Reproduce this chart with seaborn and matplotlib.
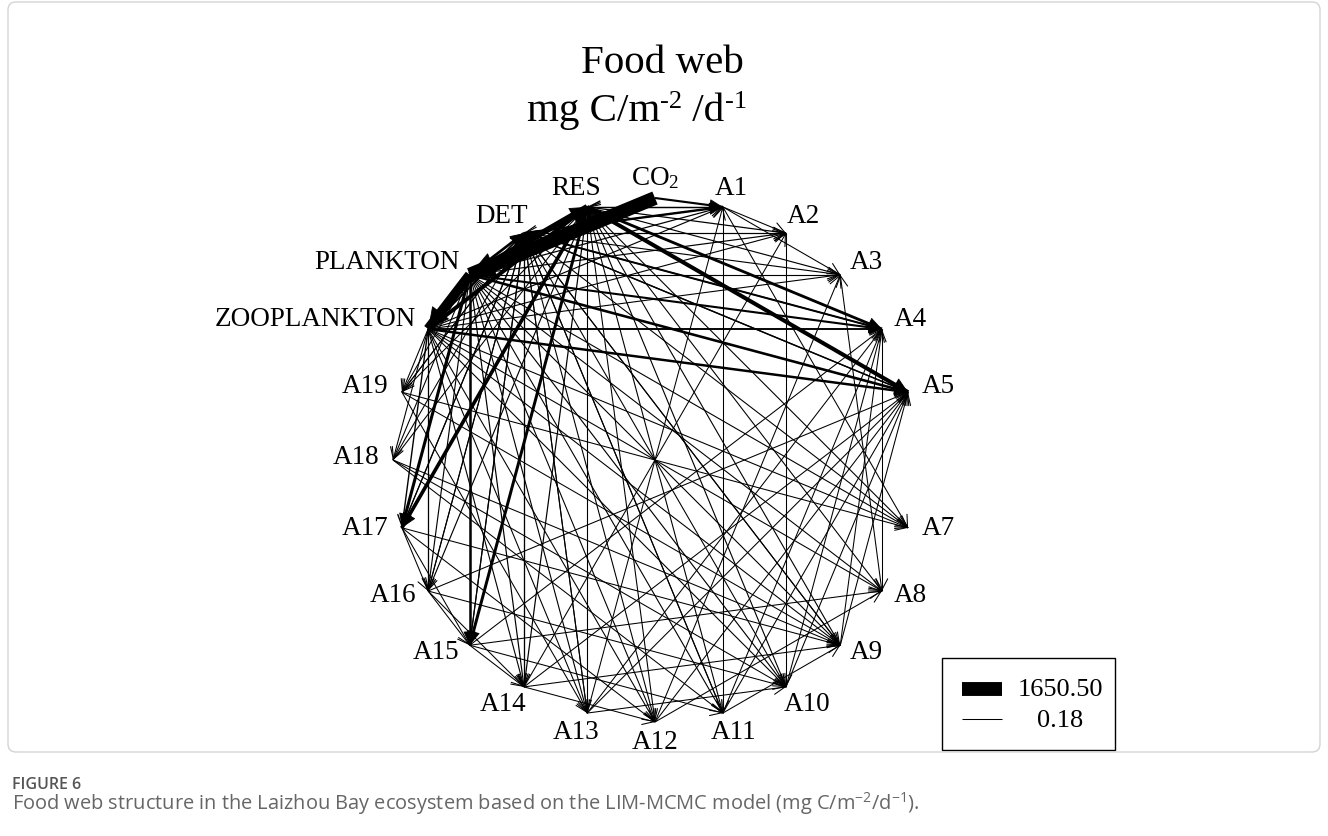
import numpy as np
import pandas as pd
import matplotlib
matplotlib.use("Agg")
import matplotlib.pyplot as plt
from matplotlib.patches import FancyArrowPatch, FancyBboxPatch, Rectangle
import seaborn as sns

# ---------------------------------------------------------------- data
# compartments placed clockwise round the ring, starting at the top ("" = empty slot)
COMPARTMENTS = ["CO2", "A1", "A2", "A3", "A4", "A5", "", "A7", "A8", "A9", "A10",
                "A11", "A12", "A13", "A14", "A15", "A16", "A17", "A18", "A19",
                "ZOOPLANKTON", "PLANKTON", "DET", "RES"]
LABELS = {"CO2": r"CO$_{\mathrm{2}}$"}

# carbon flows (mg C m-2 d-1): source, sink, value
FLOW_FROM = (
    # primary production and plankton
    ["CO2", "PLANKTON", "PLANKTON", "PLANKTON", "ZOOPLANKTON", "ZOOPLANKTON",
     "RES", "RES", "RES", "RES", "PLANKTON", "PLANKTON", "ZOOPLANKTON",
     "PLANKTON", "PLANKTON", "ZOOPLANKTON", "DET", "DET", "CO2"]
    # grazing on phytoplankton
    + ["PLANKTON"] * 14
    # grazing on zooplankton
    + ["ZOOPLANKTON"] * 14
    # detritivory
    + ["DET"] * 14
    # respiration
    + ["A1", "A2", "A3", "A7", "A8", "A9", "A10", "A11", "A12", "A13", "A14",
       "A16", "A18", "A19"]
    # egestion to detritus
    + ["A1", "A2", "A4", "A5", "A9", "A11", "A13", "A15", "A16", "A17", "A18", "A19"]
    # predation among functional groups
    + ["A1", "A1", "A1", "A8", "A2", "A1", "A4",
       "A9", "A10", "A11", "A12", "A13", "A16", "A14",
       "A15", "A10", "A11", "A9", "A13",
       "A12", "A11", "A18", "A19", "A17", "A17",
       "A16", "A16", "A15", "A19", "A18", "A19",
       "A17", "A16", "A15", "A14", "A13", "A14", "A15",
       "A13", "A14", "A18", "A17", "A12"]
)
FLOW_TO = (
    ["PLANKTON", "ZOOPLANKTON", "RES", "DET", "RES", "DET",
     "A5", "A17", "A15", "A4", "A17", "A5", "A5",
     "A15", "A4", "A4", "A1", "A4", "A1"]
    + ["A1", "A2", "A3", "A7", "A8", "A9", "A10", "A11", "A12", "A13", "A14",
       "A16", "A18", "A19"]
    + ["A1", "A2", "A3", "A7", "A8", "A9", "A10", "A12", "A13", "A14", "A16",
       "A17", "A18", "A19"]
    + ["A2", "A3", "A5", "A7", "A9", "A10", "A11", "A12", "A13", "A14", "A15",
       "A16", "A17", "A19"]
    + ["RES"] * 14
    + ["DET"] * 12
    + ["A2", "A3", "A7", "A3", "A10", "A11", "A8",
       "A5", "A5", "A5", "A5", "A5", "A5", "A5",
       "A4", "A4", "A4", "A4", "A4",
       "A8", "A9", "A10", "A13", "A15", "A16",
       "A15", "A14", "A14", "A9", "A9", "A7",
       "A12", "A10", "A11", "A12", "A10", "A9", "A8",
       "A1", "A2", "A11", "A9", "A3"]
)
FLOW_VALUE = (
    [1650.50, 1120.0, 640.0, 210.0, 380.0, 95.0,
     390.0, 330.0, 250.0, 230.0, 260.0, 200.0, 185.0,
     190.0, 135.0, 110.0, 170.0, 120.0, 140.0]
    + [25, 18, 12, 8, 6, 10, 15, 9, 7, 11, 20, 14, 5, 4]
    + [14, 9, 7, 5, 4, 6, 8, 5, 6, 10, 30, 45, 6, 5]
    + [12, 10, 40, 6, 8, 5, 9, 7, 5, 35, 20, 9, 15, 3]
    + [55, 24, 15, 8, 6, 10, 12, 8, 6, 9, 22, 15, 4, 3]
    + [10, 4, 20, 30, 3, 3, 2, 8, 5, 12, 3, 0.18]
    + [4, 3, 2, 2, 3, 3, 2,
       2.5, 3, 2, 1.5, 2, 1.8, 1.2,
       2, 1.5, 1.2, 1, 0.9,
       1.1, 0.8, 1.4, 0.9, 2.2, 1.6,
       1.3, 1.1, 0.9, 0.7, 0.6, 0.9,
       0.8, 0.7, 0.6, 0.5, 0.6, 0.8, 0.5,
       0.7, 0.9, 0.4, 0.5, 0.6]
)

# ---------------------------------------------------------------- style
sns.set_theme(style="white")
plt.rcParams["font.family"] = ["Liberation Serif", "DejaVu Serif"]
plt.rcParams["text.color"] = "black"
plt.rcParams["mathtext.fontset"] = "custom"
plt.rcParams["mathtext.rm"] = "Liberation Serif"
plt.rcParams["mathtext.it"] = "Liberation Serif:italic"
plt.rcParams["mathtext.sf"] = "Open Sans"

W, H = 1328, 836
fig = plt.figure(figsize=(W / 100, H / 100), dpi=100)
ax = fig.add_axes([0, 0, 1, 1])

# ring geometry (pixel units)
CX, CY, RAD = 655.0, 460.0, 262.0
n = len(COMPARTMENTS)
theta = np.deg2rad(np.arange(n) * 360.0 / n)
pos = {name: (CX + RAD * np.sin(t), CY - RAD * np.cos(t))
       for name, t in zip(COMPARTMENTS, theta) if name}

# ---------------------------------------------------------------- flows
rows = []
for k, (a, b, v) in enumerate(zip(FLOW_FROM, FLOW_TO, FLOW_VALUE)):
    (x0, y0), (x1, y1) = pos[a], pos[b]
    rows.append(dict(edge=k, x=x0, y=y0, flow=v))
    rows.append(dict(edge=k, x=x1, y=y1, flow=v))
df = pd.DataFrame(rows)

LW_MIN, LW_MAX = 0.75, 10.0
sns.lineplot(data=df, x="x", y="y", units="edge", estimator=None, sort=False,
             size="flow", sizes=(LW_MIN, LW_MAX), color="black", legend=False, ax=ax)
for ln in ax.lines:
    ln.set_solid_capstyle("butt")

vmin, vmax = min(FLOW_VALUE), max(FLOW_VALUE)


def width_of(v):
    return LW_MIN + (LW_MAX - LW_MIN) * (v - vmin) / (vmax - vmin)


for a, b, v in zip(FLOW_FROM, FLOW_TO, FLOW_VALUE):
    (x0, y0), (x1, y1) = pos[a], pos[b]
    d = np.hypot(x1 - x0, y1 - y0)
    ux, uy = (x1 - x0) / d, (y1 - y0) / d
    lw = width_of(v)
    if v >= 100:
        style = f"-|>,head_length={7 + 1.0 * lw:.1f},head_width={3 + 0.6 * lw:.1f}"
        arr = FancyArrowPatch((x1 - ux * 4, y1 - uy * 4), (x1, y1), arrowstyle=style,
                              mutation_scale=1, lw=0.6, color="black",
                              shrinkA=0, shrinkB=0, zorder=3)
    else:
        arr = FancyArrowPatch((x1 - ux * 3, y1 - uy * 3), (x1, y1),
                              arrowstyle="->,head_length=8,head_width=4.2",
                              mutation_scale=1, lw=lw, color="black",
                              shrinkA=0, shrinkB=0, zorder=3)
    ax.add_patch(arr)

ax.set_xlim(0, W)
ax.set_ylim(H, 0)
ax.axis("off")

# ---------------------------------------------------------------- compartment names
LAB_R = 280.0   # ring radius for names near the top and bottom
SIDE_R = 276.0  # ring radius for names aligned against the sides
texts = []
for name, t in zip(COMPARTMENTS, theta):
    if not name:
        continue
    s, c = np.sin(t), np.cos(t)
    if abs(s) > 0.6:
        ha = "left" if s > 0 else "right"
        x, y = CX + SIDE_R * s, CY - SIDE_R * c
        ax.text(x, y + 4, LABELS.get(name, name), fontsize=19.5,
                ha=ha, va="baseline", zorder=5)
    else:
        x, y = CX + LAB_R * s, CY - LAB_R * c
        txt = ax.text(x, y + 7 - 2 * c, LABELS.get(name, name), fontsize=19.5,
                      ha="center", va="baseline", zorder=5)
        texts.append((txt, s, x))

fig.canvas.draw()
renderer = fig.canvas.get_renderer()
for txt, s, x in texts:
    w = txt.get_window_extent(renderer).width
    txt.set_x(x + 0.5 * w * s)


# ---------------------------------------------------------------- title
def run_of_text(pieces, cx, base, family="Liberation Serif", color="black"):
    """Write (string, size, raise_px) pieces on one baseline, centred on cx."""
    objs = []
    for s, size, rise in pieces:
        objs.append(ax.text(0, base - rise, s, fontsize=size, family=family,
                            color=color, ha="left", va="baseline"))
    fig.canvas.draw()
    widths = [o.get_window_extent(renderer).width for o in objs]
    x = cx - sum(widths) / 2
    for o, wdt in zip(objs, widths):
        o.set_x(x)
        x += wdt


ax.text(662, 73, "Food web", fontsize=29.5, ha="center", va="baseline")
run_of_text([("mg C/m", 29.5, 0), ("-2", 19, 13), (" /d", 29.5, 0), ("-1", 19, 13)],
            637, 121)

# ---------------------------------------------------------------- flow legend
ax.add_patch(Rectangle((942, 658), 173, 92, fill=False, ec="black", lw=1.0))
ax.plot([962, 1002], [689, 689], color="black", lw=width_of(vmax), solid_capstyle="butt")
ax.plot([962, 1002], [719, 719], color="black", lw=width_of(vmin), solid_capstyle="butt")
ax.text(1060, 696, f"{vmax:.2f}", fontsize=19, ha="center", va="baseline")
ax.text(1060, 727, f"{vmin:.2f}", fontsize=19, ha="center", va="baseline")

# ---------------------------------------------------------------- frame and caption
ax.add_patch(FancyBboxPatch((8, 2), 1312, 750, boxstyle="round,pad=0,rounding_size=8",
                            fill=False, ec="#d4d4d4", lw=1.0))
ax.text(12, 789, "FIGURE 6", family="Open Sans", weight="semibold", fontsize=11.5,
        color="#555555", va="baseline")
ax.text(12, 810,
        r"Food web structure in the Laizhou Bay ecosystem based on the LIM-MCMC model "
        r"(mg C/m$^{\mathsf{-2}}$/d$^{\mathsf{-1}}$).",
        family="Open Sans", fontsize=14.4, color="#666666", va="baseline")

fig.savefig("out.png", dpi=100)
